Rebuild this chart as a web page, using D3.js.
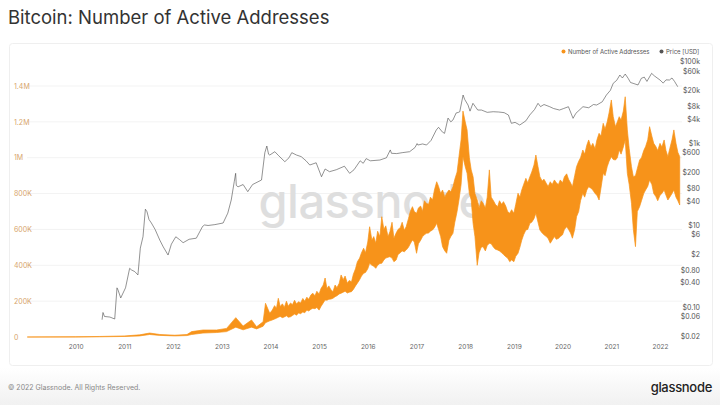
<!DOCTYPE html>
<html>
<head>
<meta charset="utf-8">
<script src="https://cdn.jsdelivr.net/npm/d3@7"></script>
<style>
  html, body { margin: 0; padding: 0; background: #fff; }
  svg { display: block; font-family: Inter, Roboto, "Noto Sans", sans-serif; }
</style>
</head>
<body>
<svg id="chart" width="720" height="405"></svg>
<script>
// ---------- DATA ----------
const addrDates = ["2009-01-03","2010-01-01","2010-07-01","2011-01-05","2011-04-26","2011-07-10","2011-09-24","2012-01-15","2012-04-15","2012-05-20","2012-08-13","2012-11-23","2013-02-06","2013-04-16","2013-06-10","2013-08-12","2013-09-19","2013-11-07","2013-11-25","2013-12-27",
"2014-01-15","2014-02-01","2014-02-15","2014-03-01","2014-03-15","2014-04-01","2014-04-15","2014-05-01","2014-05-15","2014-06-01","2014-06-15","2014-07-01","2014-07-15","2014-08-01","2014-08-15","2014-09-01","2014-09-15","2014-10-01","2014-10-15","2014-11-01","2014-11-15","2014-12-01","2014-12-15",
"2015-01-01","2015-01-15","2015-02-01","2015-02-15","2015-03-01","2015-03-15","2015-04-01","2015-04-15","2015-05-01","2015-05-15","2015-06-01","2015-06-15","2015-07-01","2015-07-15","2015-08-01","2015-08-15","2015-09-01","2015-09-15","2015-10-01","2015-10-15","2015-11-01","2015-11-15","2015-12-01","2015-12-15",
"2016-01-01","2016-01-15","2016-02-01","2016-02-15","2016-03-01","2016-03-15","2016-04-01","2016-04-15","2016-05-01","2016-05-15","2016-06-01","2016-06-15","2016-07-01","2016-07-15","2016-08-01","2016-08-15","2016-09-01","2016-09-15","2016-10-01","2016-10-15","2016-11-01","2016-11-15","2016-12-01","2016-12-15",
"2017-01-01","2017-01-15","2017-02-01","2017-02-15","2017-03-01","2017-03-15","2017-04-01","2017-04-15","2017-05-01","2017-05-15","2017-06-01","2017-06-15","2017-07-01","2017-07-15","2017-08-01","2017-08-15","2017-09-01","2017-09-15","2017-10-01","2017-10-15","2017-11-01","2017-11-15","2017-12-01","2017-12-15",
"2018-01-01","2018-01-15","2018-02-01","2018-02-15","2018-03-01","2018-03-15","2018-04-01","2018-04-15","2018-05-01","2018-05-15","2018-06-01","2018-06-15","2018-07-01","2018-07-15","2018-08-01","2018-08-15","2018-09-01","2018-09-15","2018-10-01","2018-10-15","2018-11-01","2018-11-15","2018-12-01","2018-12-15",
"2019-01-01","2019-01-15","2019-02-01","2019-02-15","2019-03-01","2019-03-15","2019-04-01","2019-04-15","2019-05-01","2019-05-15","2019-06-01","2019-06-15","2019-07-01","2019-07-15","2019-08-01","2019-08-15","2019-09-01","2019-09-15","2019-10-01","2019-10-15","2019-11-01","2019-11-15","2019-12-01","2019-12-15",
"2020-01-01","2020-01-15","2020-02-01","2020-02-15","2020-03-01","2020-03-15","2020-04-01","2020-04-15","2020-05-01","2020-05-15","2020-06-01","2020-06-15","2020-07-01","2020-07-15","2020-08-01","2020-08-15","2020-09-01","2020-09-15","2020-10-01","2020-10-15","2020-11-01","2020-11-15","2020-12-01","2020-12-15",
"2021-01-01","2021-01-15","2021-02-01","2021-02-15","2021-03-01","2021-03-15","2021-04-01","2021-04-15","2021-05-01","2021-05-15","2021-06-01","2021-06-15","2021-07-01","2021-07-15","2021-08-01","2021-08-15","2021-09-01","2021-09-15","2021-10-01","2021-10-15","2021-11-01","2021-11-15","2021-12-01","2021-12-15",
"2022-01-01","2022-01-15","2022-02-01","2022-02-15","2022-03-01","2022-03-15","2022-04-01","2022-04-15","2022-05-01","2022-05-15","2022-05-29"];
// upper and lower edge of the daily band, in thousands of addresses
const addrHighK = [0,1,3,6,12,22,14,10,14,30,39,39,48,108,61,95,57,85,188,132,
150,175,160,216,170,185,165,200,172,190,180,205,185,197,190,215,200,222,210,235,244,230,255,
240,270,290,329,270,285,262,253,290,275,300,346,320,340,300,315,308,350,380,420,440,470,495,470,
530,615,540,560,523,590,560,671,600,620,560,587,640,551,580,600,610,640,595,615,660,700,727,700,
690,720,730,700,760,746,740,780,764,820,866,840,800,820,780,802,820,810,838,880,920,1006,1100,1260,
1200,1155,1000,932,894,800,764,720,760,746,720,780,932,780,760,740,727,760,740,755,730,700,690,710,
690,740,802,780,820,850,885,860,894,920,960,1015,950,894,870,880,857,840,866,850,876,860,850,876,
860,894,910,880,860,838,900,950,980,1000,1043,1020,1070,1099,1060,1080,1050,1100,1136,1120,1192,1160,1200,1250,
1322,1230,1173,1200,1229,1210,1260,1340,1155,1050,950,894,900,940,987,1000,1040,1062,1100,1173,1120,1080,1062,1040,
1080,1060,1099,1040,1006,1050,1100,1155,1080,1030,1006];
const addrLowK = [0,0,1,3,6,14,9,6,8,14,22,25,30,55,40,55,45,60,80,90,
95,100,105,110,115,108,112,118,110,113,120,128,122,134,130,140,135,150,145,155,160,158,165,
150,170,190,206,205,210,212,216,225,230,240,244,250,255,245,250,253,265,285,300,320,340,355,360,
380,411,400,395,383,400,410,411,430,440,445,448,440,420,430,460,470,480,475,485,500,520,541,530,
467,520,540,560,570,578,580,590,597,610,634,600,560,504,480,467,540,560,578,640,700,764,850,1006,
950,913,800,764,634,560,400,470,500,504,480,510,523,520,500,490,485,480,470,460,448,440,420,430,
420,450,467,500,540,570,597,600,634,640,660,690,640,597,580,570,560,550,523,540,560,545,550,560,
570,600,615,600,580,551,600,671,700,760,802,780,820,838,830,820,800,790,764,830,913,900,950,980,
1006,990,987,1000,1043,1020,1060,1099,913,850,746,600,504,700,727,760,800,820,840,876,850,800,783,760,
790,800,820,790,764,780,800,820,780,760,736];

const priceDates = ["2010-07-18","2010-07-25","2010-08-05","2010-09-15","2010-10-21","2010-11-07","2010-11-15","2010-12-05","2011-01-10","2011-02-10","2011-02-24","2011-03-20","2011-04-13","2011-05-01","2011-05-21","2011-06-08","2011-06-20","2011-07-05","2011-07-23","2011-08-20","2011-09-24","2011-10-20","2011-11-25","2011-12-20",
"2012-01-22","2012-02-20","2012-03-17","2012-05-01","2012-06-24","2012-08-10","2012-08-25","2012-09-20","2012-11-10","2013-01-11","2013-02-15","2013-03-13","2013-04-05","2013-04-15","2013-04-20","2013-05-03","2013-06-10","2013-07-15","2013-08-20","2013-10-26","2013-11-20","2013-12-05","2013-12-18","2013-12-27",
"2014-02-03","2014-02-28","2014-04-19","2014-05-20","2014-06-10","2014-07-15","2014-08-20","2014-09-25","2014-10-23","2014-12-10","2015-01-19","2015-02-15","2015-03-20","2015-05-10","2015-07-10","2015-08-18","2015-09-20","2015-11-05","2015-11-28","2015-12-20",
"2016-01-20","2016-04-01","2016-05-20","2016-06-18","2016-06-27","2016-08-05","2016-09-15","2016-11-10","2016-12-20","2017-01-05","2017-01-11","2017-02-15","2017-03-17","2017-04-20","2017-05-29","2017-06-15","2017-07-15","2017-07-30","2017-08-25","2017-09-15","2017-10-01","2017-10-25","2017-11-12","2017-11-21","2017-12-16","2017-12-28",
"2018-01-22","2018-02-06","2018-02-28","2018-04-05","2018-05-03","2018-06-15","2018-07-30","2018-09-10","2018-10-20","2018-11-21","2018-12-13","2019-01-10","2019-02-14","2019-04-01","2019-04-30","2019-06-05","2019-07-01","2019-07-20","2019-08-15","2019-09-27","2019-10-25","2019-12-09",
"2020-01-10","2020-02-14","2020-03-20","2020-04-10","2020-06-02","2020-07-15","2020-08-20","2020-09-13","2020-10-25","2020-11-25","2020-12-25","2021-01-15","2021-02-10","2021-03-06","2021-03-25","2021-04-15","2021-05-07","2021-05-25","2021-06-13","2021-07-20","2021-08-14","2021-09-05","2021-09-25","2021-10-30","2021-11-20",
"2022-01-01","2022-01-25","2022-02-15","2022-03-13","2022-04-01","2022-04-20","2022-05-14"];
const priceValues = [0.05,0.075,0.06,0.058,0.052,0.3,0.265,0.17,0.3,0.9,0.82,0.75,0.62,2.8,5.3,25,21.7,14,11.5,8,4.4,3,1.9,3.5,
5.3,4.5,3.8,4.6,4.9,9.5,10.3,10,10.5,11.5,20,41.9,120,188,95,88,100,67,100,129,600,873,550,526,
634,520,361,450,600,526,480,380,300,340,155,240,206,230,280,188,230,380,330,430,
380,397,450,700,579,570,600,634,800,1000,923,980,923,1200,2150,2500,1900,1780,4200,3400,3770,5600,5800,6000,15350,12000,
8750,6200,9640,6600,6600,5800,6000,5900,5700,4990,3130,3300,2840,3600,4990,6800,9640,8000,9000,7960,7200,6600,
7200,7960,4140,5500,7960,7500,9000,8750,10500,15350,20000,29650,35000,47300,40000,50000,39300,31000,29650,27000,39300,42000,33000,52000,45000,
35700,30000,36000,35700,40000,33000,24500];

const leftTicks = [0,200000,400000,600000,800000,1000000,1200000,1400000];
const leftTickLabels = ["0","200K","400K","600K","800K","1M","1.2M","1.4M"];
const rightTicks = [100000,60000,20000,8000,4000,1000,600,200,80,40,10,6,2,0.8,0.4,0.1,0.06,0.02];
const rightTickLabels = ["$100k","$60k","$20k","$8k","$4k","$1k","$600","$200","$80","$40","$10","$6","$2","$0.80","$0.40","$0.10","$0.06","$0.02"];
const yearTicks = [2010,2011,2012,2013,2014,2015,2016,2017,2018,2019,2020,2021,2022];

// ---------- CHART ----------
const parse = d3.utcParse("%Y-%m-%d");
const svg = d3.select("#chart");
const ORANGE = "#f7931a";

// footer background
const defs = svg.append("defs");
const g1 = defs.append("linearGradient").attr("id","foot").attr("x1",0).attr("x2",0).attr("y1",0).attr("y2",1);
g1.append("stop").attr("offset","0%").attr("stop-color","#ffffff");
g1.append("stop").attr("offset","100%").attr("stop-color","#f1f1f1");
svg.append("rect").attr("x",0).attr("y",368).attr("width",720).attr("height",37).attr("fill","url(#foot)");

// card
svg.append("rect").attr("x",9.5).attr("y",43.5).attr("width",703).attr("height",322)
  .attr("rx",3).attr("fill","#fff").attr("stroke","#efefef");

// title
svg.append("text").attr("x",8).attr("y",24).attr("font-size",18.5).attr("fill","#333")
  .attr("font-weight",400).text("Bitcoin: Number of Active Addresses");

const x = d3.scaleUtc().domain([new Date(Date.UTC(2009,0,1)), new Date(Date.UTC(2022,0,1))]).range([27, 660]);
const yL = d3.scaleLinear().domain([0,1400000]).range([337, 86]);
const yR = d3.scaleLog().domain([0.02,100000]).range([336, 61.7]);

// gridlines
svg.append("g").selectAll("line").data(leftTicks.slice(1)).join("line")
  .attr("x1",27).attr("x2",682).attr("y1",d=>yL(d)).attr("y2",d=>yL(d))
  .attr("stroke","#f3f3f3").attr("stroke-width",1);

// watermark
svg.append("text").attr("x",372).attr("y",218).attr("text-anchor","middle")
  .attr("font-size",47).attr("font-weight",500).attr("fill","#dedede").attr("letter-spacing",-0.5)
  .text("glassnode");

// left axis
const axL = d3.axisLeft(yL).tickValues(leftTicks).tickSize(0).tickPadding(0)
  .tickFormat((d,i)=>leftTickLabels[i]);
const gL = svg.append("g").attr("transform","translate(14,0)").call(axL);
gL.select(".domain").remove();
gL.selectAll("text").attr("text-anchor","start").attr("fill","#d7a56c").attr("font-size",7)
  .attr("font-family","Inter, Roboto, sans-serif");

// right axis
const axR = d3.axisRight(yR).tickValues(rightTicks).tickSize(0).tickPadding(0)
  .tickFormat((d,i)=>rightTickLabels[i]);
const gR = svg.append("g").attr("transform","translate(700,0)").call(axR);
gR.select(".domain").remove();
gR.selectAll("text").attr("text-anchor","end").attr("fill","#555").attr("font-size",7)
  .attr("font-family","Inter, Roboto, sans-serif");

// bottom axis
const axB = d3.axisBottom(x).tickValues(yearTicks.map(y=>new Date(Date.UTC(y,0,1))))
  .tickSize(0).tickPadding(0).tickFormat(d3.utcFormat("%Y"));
const gB = svg.append("g").attr("transform","translate(0,344)").call(axB);
gB.select(".domain").remove();
gB.selectAll("text").attr("fill","#666").attr("font-size",6.5)
  .attr("font-family","Inter, Roboto, sans-serif");

// active addresses band
const addr = addrDates.map((d,i)=>({date:parse(d), hi:addrHighK[i]*1000, lo:addrLowK[i]*1000}));
svg.append("path").datum(addr)
  .attr("d", d3.area().x(d=>x(d.date)).y0(d=>yL(d.lo)).y1(d=>yL(d.hi)).curve(d3.curveLinear))
  .attr("fill",ORANGE).attr("stroke",ORANGE).attr("stroke-width",0.7).attr("stroke-linejoin","miter");

// price line
const price = priceDates.map((d,i)=>({date:parse(d), v:priceValues[i]}));
svg.append("path").datum(price)
  .attr("d", d3.line().x(d=>x(d.date)).y(d=>yR(d.v)))
  .attr("fill","none").attr("stroke","#4a4a4a").attr("stroke-width",0.6);

// legend
const lg = svg.append("g").attr("font-size",6).attr("fill","#555");
lg.append("circle").attr("cx",563.5).attr("cy",51.5).attr("r",2).attr("fill",ORANGE);
lg.append("text").attr("x",568).attr("y",53.8).text("Number of Active Addresses");
lg.append("circle").attr("cx",661.5).attr("cy",51.5).attr("r",2).attr("fill","#555");
lg.append("text").attr("x",666).attr("y",53.8).text("Price [USD]");

// footer
svg.append("text").attr("x",8).attr("y",390).attr("font-size",7).attr("fill","#888")
  .text("© 2022 Glassnode. All Rights Reserved.");
svg.append("text").attr("x",712).attr("y",392).attr("text-anchor","end").attr("font-size",13)
  .attr("font-weight",500).attr("fill","#222").attr("letter-spacing",-0.3).text("glassnode");
</script>
</body>
</html>
